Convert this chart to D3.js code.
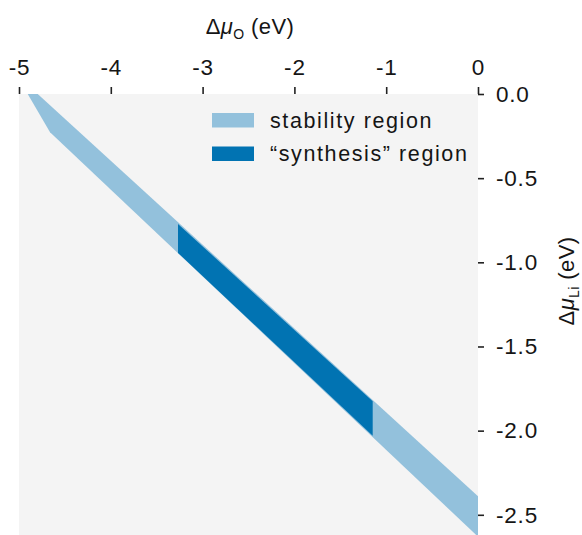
<!DOCTYPE html>
<html>
<head>
<meta charset="utf-8">
<script src="https://cdn.jsdelivr.net/npm/d3@7"></script>
<style>
  body { margin: 0; background: #fff; }
  svg { display: block; font-family: 'Liberation Sans', Arial, Helvetica, sans-serif; }
</style>
</head>
<body>
<script>
// chemical potential window
const stabilityMuO = [-4.905, -4.796, 0, 0, -4.662];
const stabilityMuLi = [0, 0, -2.39, -2.63, -0.227];
const synthesisMuO = [-3.268, -1.147, -1.147, -3.268];
const synthesisMuLi = [-0.772, -1.826, -2.03, -0.944];

const xTicks = [-5, -4, -3, -2, -1, 0];
const yTicks = [0, -0.5, -1, -1.5, -2, -2.5];
const legendLabels = ['stability region', '“synthesis” region'];
const legendColors = ['#93c1dc', '#0173b2'];

const w = 582;
const h = 535;

const svg = d3.select('body').append('svg').attr('width', w).attr('height', h);

const xScale = d3.scaleLinear().domain([-5, 0]).range([19, 478]);
const yScale = d3.scaleLinear().domain([0, -2.62]).range([94, 535]);

svg
  .append('defs')
  .append('clipPath')
  .attr('id', 'plot-clip')
  .append('rect')
  .attr('x', xScale(-5))
  .attr('y', yScale(0))
  .attr('width', xScale(0) - xScale(-5))
  .attr('height', yScale(-2.62) - yScale(0));

svg
  .append('rect')
  .attr('x', xScale(-5))
  .attr('y', yScale(0))
  .attr('width', xScale(0) - xScale(-5))
  .attr('height', yScale(-2.62) - yScale(0))
  .attr('fill', '#f4f4f4');

const area = svg.append('g').attr('clip-path', 'url(#plot-clip)');

const toPoints = (xs, ys) => xs.map((v, i) => [xScale(v), yScale(ys[i])]);
const line = d3.line().curve(d3.curveLinearClosed);

area
  .append('path')
  .attr('d', line(toPoints(stabilityMuO, stabilityMuLi)))
  .attr('fill', legendColors[0]);

area
  .append('path')
  .attr('d', line(toPoints(synthesisMuO, synthesisMuLi)))
  .attr('fill', legendColors[1]);

// axes
const xAxis = d3
  .axisTop(xScale)
  .tickValues(xTicks)
  .tickSize(7)
  .tickPadding(12)
  .tickFormat((d) => String(d));

const yAxis = d3
  .axisRight(yScale)
  .tickValues(yTicks)
  .tickSize(6)
  .tickPadding(12)
  .tickFormat((d) => d.toFixed(1));

const styleAxis = (g) => {
  g.select('.domain').remove();
  g.selectAll('.tick line').attr('stroke', '#222').attr('stroke-width', 1.6);
  g.selectAll('.tick text')
    .attr('fill', '#151515')
    .style('font-size', '22.5px')
    .style('letter-spacing', '0.8px')
    .style('font-family', "'Liberation Sans', Arial, sans-serif");
};

svg
  .append('g')
  .attr('transform', `translate(0,${yScale(0)})`)
  .call(xAxis)
  .call(styleAxis);

svg
  .append('g')
  .attr('transform', `translate(${xScale(0)},0)`)
  .call(yAxis)
  .call(styleAxis);

// axis titles
const title = (g, sub) => {
  g.append('tspan').text('Δ');
  g.append('tspan').style('font-style', 'italic').text('μ');
  g.append('tspan')
    .attr('dy', 5)
    .style('font-size', '14px')
    .text(sub);
  g.append('tspan').attr('dy', -5).text(' (eV)');
};

svg
  .append('text')
  .attr('x', 250)
  .attr('y', 34)
  .attr('text-anchor', 'middle')
  .attr('fill', '#151515')
  .style('font-size', '22px')
  .style('letter-spacing', '0.4px')
  .call(title, 'O');

svg
  .append('text')
  .attr('transform', 'translate(574,281) rotate(-90)')
  .attr('text-anchor', 'middle')
  .attr('fill', '#151515')
  .style('font-size', '22px')
  .style('letter-spacing', '0.4px')
  .call(title, 'Li');

// legend
const legend = svg.append('g').attr('id', 'legend');

legendLabels.forEach((label, i) => {
  legend
    .append('rect')
    .attr('x', 212)
    .attr('y', 113 + i * 33.5)
    .attr('width', 42)
    .attr('height', 14.5)
    .attr('fill', legendColors[i]);
  legend
    .append('text')
    .attr('x', 270)
    .attr('y', 127.5 + i * 33.5)
    .attr('fill', '#151515')
    .style('font-size', '21.5px')
    .style('letter-spacing', '1.6px')
    .text(label);
});
</script>
</body>
</html>
